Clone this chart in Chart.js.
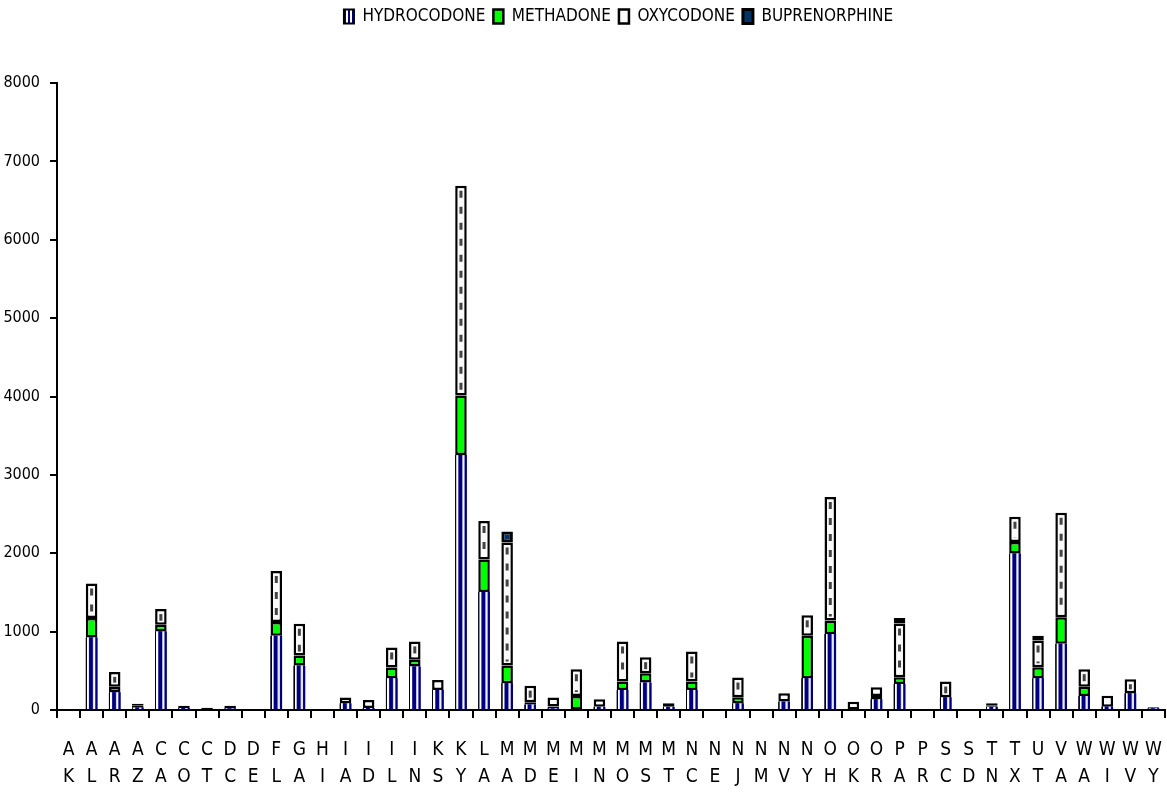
<!DOCTYPE html>
<html>
<head>
<meta charset="utf-8">
<script src="https://cdn.jsdelivr.net/npm/chart.js@4/dist/chart.umd.min.js"></script>
<style>
  html, body { margin: 0; padding: 0; background: #fff; }
  #chart { display: block; }
</style>
</head>
<body>
<canvas id="chart" width="1167" height="798"></canvas>
<script>
// state codes, shown as two stacked letters under each bar
const states = ['AK','AL','AR','AZ','CA','CO','CT','DC','DE','FL','GA','HI','IA','ID','IL','IN',
  'KS','KY','LA','MA','MD','ME','MI','MN','MO','MS','MT','NC','NE','NJ','NM','NV',
  'NY','OH','OK','OR','PA','PR','SC','SD','TN','TX','UT','VA','WA','WI','WV','WY'];

const hydrocodone = [10, 926, 226, 30, 1003, 25, 10, 20, 0, 947, 567, 0, 85, 25, 406, 555,
  256, 3252, 1507, 342, 70, 20, 5, 40, 256, 350, 40, 256, 0, 85, 0, 107,
  406, 969, 5, 137, 333, 0, 162, 0, 40, 1997, 406, 845, 179, 43, 213, 20];
const methadone = [0, 247, 72, 0, 85, 0, 0, 0, 0, 175, 128, 0, 0, 0, 136, 85,
  0, 760, 414, 225, 28, 25, 175, 0, 107, 120, 0, 107, 0, 77, 0, 0,
  541, 174, 0, 42, 85, 0, 0, 0, 0, 145, 140, 337, 119, 0, 0, 0];
const oxycodone = [0, 440, 188, 25, 200, 30, 20, 35, 0, 650, 406, 0, 73, 103, 256, 235,
  128, 2676, 490, 1569, 213, 113, 341, 97, 512, 204, 45, 384, 0, 252, 0, 106,
  261, 1574, 100, 111, 685, 0, 201, 0, 20, 325, 341, 1336, 223, 140, 180, 14];
const buprenorphine = [0, 0, 0, 25, 0, 0, 0, 0, 0, 0, 0, 0, 0, 0, 0, 0,
  0, 0, 0, 140, 0, 0, 0, 0, 0, 0, 0, 0, 0, 0, 0, 0,
  0, 0, 0, 0, 70, 0, 0, 0, 25, 0, 60, 0, 0, 0, 0, 0];

const yTicks = [0, 1000, 2000, 3000, 4000, 5000, 6000, 7000, 8000];

const FONT = '"Liberation Sans Narrow", "DejaVu Sans Condensed", "Arial Narrow", sans-serif';

// striped fill for the hydrocodone legend box
const stripe = document.createElement('canvas');
stripe.width = 10; stripe.height = 1;
const sctx = stripe.getContext('2d');
sctx.fillStyle = '#ffffff'; sctx.fillRect(0, 0, 10, 1);
sctx.fillStyle = '#000080'; sctx.fillRect(2, 0, 4, 1); sctx.fillRect(8, 0, 2, 1);

// paints the hydrocodone shading and the oxycodone dash line on top of the bars
const barDecor = {
  id: 'barDecor',
  afterDatasetDraw(chart, args) {
    const c = chart.ctx;
    if (args.index === 0) {
      args.meta.data.forEach(bar => {
        const p = bar.getProps(['x', 'y', 'base', 'width'], true);
        if (p.base - p.y < 0.5) return;
        const l = p.x - p.width / 2;
        const g = c.createLinearGradient(l, 0, l + p.width, 0);
        g.addColorStop(0, '#000000');
        g.addColorStop(0.09, '#000000');
        g.addColorStop(0.12, '#ffffff');
        g.addColorStop(0.22, '#ffffff');
        g.addColorStop(0.32, '#000080');
        g.addColorStop(0.56, '#000080');
        g.addColorStop(0.66, '#dcdcf4');
        g.addColorStop(0.76, '#ffffff');
        g.addColorStop(0.86, '#000080');
        g.addColorStop(1, '#000080');
        c.save();
        c.fillStyle = g;
        c.fillRect(l, p.y, p.width, p.base - p.y);
        c.restore();
      });
    }
    if (args.index === 2) {
      args.meta.data.forEach(bar => {
        const p = bar.getProps(['x', 'y', 'base'], true);
        if (p.base - p.y < 14) return;
        c.save();
        c.strokeStyle = '#444444';
        c.lineWidth = 3;
        c.setLineDash([7, 9]);
        c.beginPath();
        c.moveTo(p.x, p.y + 5);
        c.lineTo(p.x, p.base - 4);
        c.stroke();
        c.restore();
      });
    }
  },
  afterInit(chart) {
    // keep the legend band tall so the plot starts where the original does
    const fit = chart.legend.fit;
    chart.legend.fit = function() {
      fit.call(this);
      this.height = 83;
    };
  },
  afterLayout(chart) {
    // the original legend sits a bit right of the page centre
    chart.legend.left += 36;
    chart.legend.right += 36;
  }
};

const ctx = document.getElementById('chart');
const myChart = new Chart(ctx, {
  type: 'bar',
  plugins: [barDecor],
  data: {
    labels: states.map(s => s.split('')),
    datasets: [
      {
        label: 'HYDROCODONE',
        data: hydrocodone,
        backgroundColor: '#000080',
        borderWidth: 0
      },
      {
        label: 'METHADONE',
        data: methadone,
        backgroundColor: '#00ff00',
        borderColor: '#000000',
        borderWidth: 2.5,
        borderSkipped: false
      },
      {
        label: 'OXYCODONE',
        data: oxycodone,
        backgroundColor: '#fafafa',
        borderColor: '#000000',
        borderWidth: 2.5,
        borderSkipped: false
      },
      {
        label: 'BUPRENORPHINE',
        data: buprenorphine,
        backgroundColor: '#003366',
        borderColor: '#000000',
        borderWidth: 3,
        borderSkipped: false
      }
    ]
  },
  options: {
    responsive: false,
    animation: false,
    events: [],
    layout: { padding: { right: 2 } },
    datasets: {
      bar: { categoryPercentage: 1, barPercentage: 0.5 }
    },
    plugins: {
      tooltip: { enabled: false },
      legend: {
        position: 'top',
        labels: {
          color: '#000',
          font: { family: FONT, size: 17 },
          boxWidth: 10,
          boxHeight: 14,
          padding: 8,
          generateLabels(chart) {
            const items = Chart.defaults.plugins.legend.labels.generateLabels(chart);
            items[0].fillStyle = chart.ctx.createPattern(stripe, 'repeat');
            items[0].strokeStyle = '#000';
            items[0].lineWidth = 2;
            return items;
          }
        }
      }
    },
    scales: {
      x: {
        stacked: true,
        afterFit(scale) {
          scale.height = 88;
          scale.paddingLeft = 0;
          scale.paddingRight = 0;
        },
        border: { color: '#000', width: 2 },
        grid: { drawOnChartArea: false, drawTicks: true, tickLength: 8, color: '#000', lineWidth: 2, offset: true },
        ticks: {
          autoSkip: false,
          maxRotation: 0,
          color: '#000',
          padding: 18,
          font: { family: FONT, size: 19, lineHeight: 1.44 }
        }
      },
      y: {
        stacked: true,
        min: 0,
        max: 8000,
        afterFit(scale) { scale.width = 57; },
        afterBuildTicks(scale) { scale.ticks = yTicks.map(v => ({ value: v })); },
        border: { color: '#000', width: 2 },
        grid: { drawOnChartArea: false, drawTicks: true, tickLength: 7, color: '#000', lineWidth: 2 },
        ticks: {
          color: '#000',
          padding: 10,
          font: { family: FONT, size: 16 },
          callback: v => String(v)
        }
      }
    }
  }
});
</script>
</body>
</html>
